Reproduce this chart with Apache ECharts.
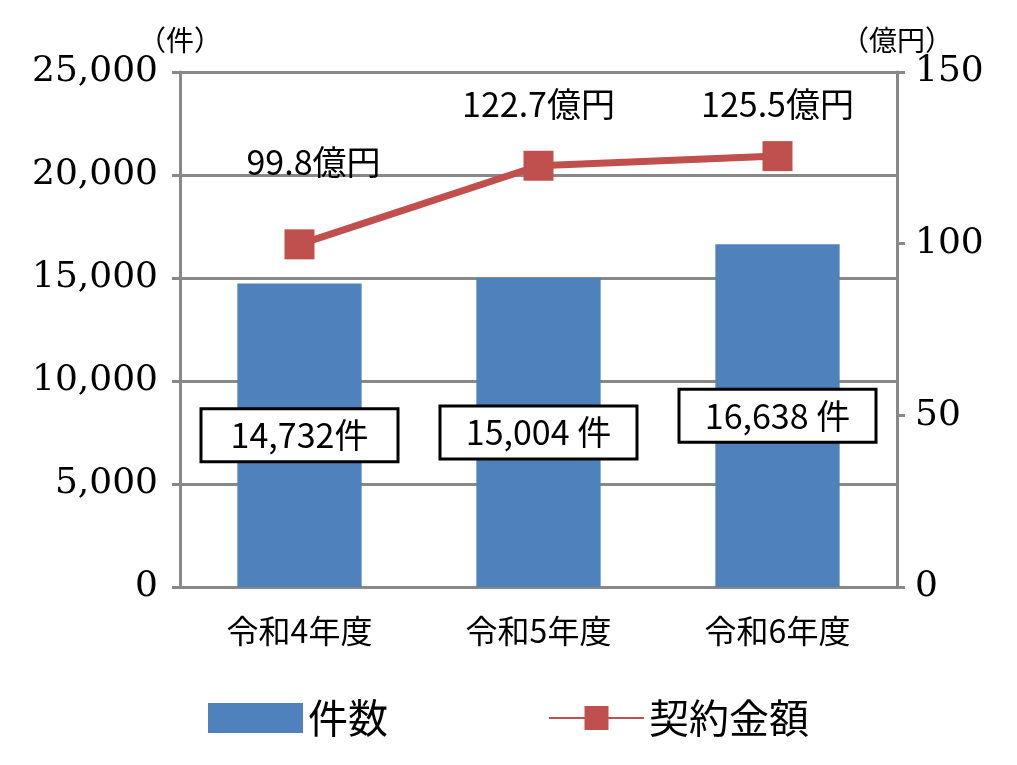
<!DOCTYPE html>
<html><head><meta charset="utf-8">
<script src="https://cdn.jsdelivr.net/npm/echarts@6/dist/echarts.min.js"></script>
<style>html,body{margin:0;background:#fff}#main{width:1017px;height:765px}</style>
</head><body><div id="main"></div>
<script>
var categories = ['令和4年度', '令和5年度', '令和6年度'];
var counts = [14732, 15004, 16638];
var countLabels = ['14,732件', '15,004 件', '16,638 件'];
var amounts = [99.8, 122.7, 125.5];
var amountLabels = ['99.8億円', '122.7億円', '125.5億円'];
var amountOffsets = [[14, -20], [0, 0], [0, 10]];

var numFont = '"DejaVu Serif", "Liberation Serif", serif';
var jpFont = '"Noto Sans CJK JP", sans-serif';
var myChart = echarts.init(document.getElementById('main'));
var option = {
    animation: false,
    textStyle: {fontFamily: jpFont},
    grid: {left: 180, right: 120, top: 72, bottom: 178},
    legend: {
        bottom: 22, left: 'center', itemGap: 160, itemWidth: 95, itemHeight: 30,
        textStyle: {fontSize: 40, color: '#000', fontFamily: jpFont},
        data: [{name: '件数', icon: 'rect'}, {name: '契約金額'}]
    },
    xAxis: {
        type: 'category', data: categories,
        axisLine: {lineStyle: {color: '#888', width: 3}},
        axisTick: {length: 8, lineStyle: {color: '#888', width: 3}},
        axisLabel: {fontSize: 32, color: '#000', margin: 28, fontFamily: jpFont}
    },
    yAxis: [{
        type: 'value', min: 0, max: 25000, interval: 5000,
        name: '（件）', nameGap: 18, nameTextStyle: {fontSize: 28, color: '#000', align: 'center'},
        axisLine: {show: true, lineStyle: {color: '#888', width: 3}},
        axisTick: {show: true, length: 8, lineStyle: {color: '#888', width: 3}},
        splitLine: {lineStyle: {color: '#888', width: 3}},
        axisLabel: {fontSize: 36, color: '#000', margin: 22, fontFamily: numFont,
            formatter: function (v) { return v.toLocaleString('en-US'); }}
    }, {
        type: 'value', min: 0, max: 150, interval: 50,
        name: '（億円）', nameGap: 18, nameTextStyle: {fontSize: 28, color: '#000', align: 'center'},
        axisLine: {show: true, lineStyle: {color: '#888', width: 3}},
        axisTick: {show: true, length: 8, lineStyle: {color: '#888', width: 3}},
        splitLine: {show: false},
        axisLabel: {fontSize: 36, color: '#000', margin: 18, fontFamily: numFont}
    }],
    series: [{
        name: '件数', type: 'bar', barWidth: '52%', data: counts,
        itemStyle: {color: '#4F81BD'},
        label: {
            show: true, position: 'inside', fontSize: 34, color: '#000',
            backgroundColor: '#fff', borderColor: '#000', borderWidth: 3,
            padding: [8, 12], width: 170, align: 'center',
            formatter: function (p) { return countLabels[p.dataIndex]; }
        }
    }, {
        name: '契約金額', type: 'line', yAxisIndex: 1,
        data: amounts.map(function (v, i) {
            return {value: v, label: {offset: amountOffsets[i]}};
        }),
        lineStyle: {color: '#C0504D', width: 7},
        itemStyle: {color: '#C0504D'},
        symbol: 'rect', symbolSize: 30,
        label: {
            show: true, position: 'top', distance: 30, fontSize: 34, color: '#000',
            formatter: function (p) { return amountLabels[p.dataIndex]; }
        }
    }]
};
myChart.setOption(option);
</script></body></html>
